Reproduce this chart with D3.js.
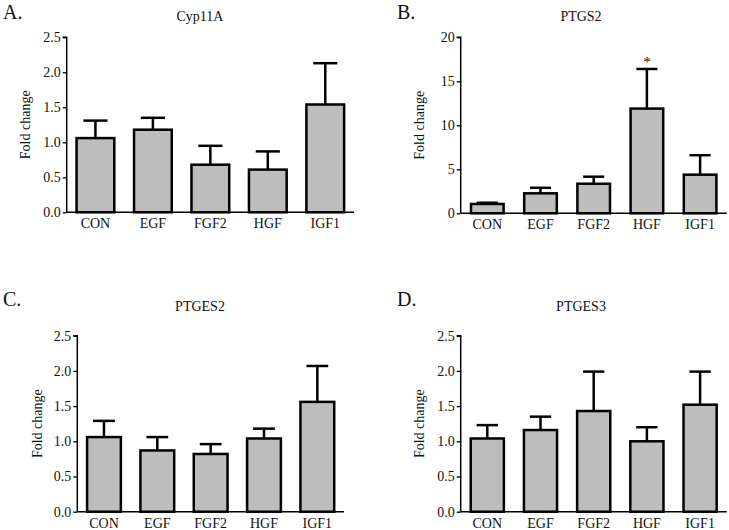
<!DOCTYPE html>
<html>
<head>
<meta charset="utf-8">
<script src="https://cdn.jsdelivr.net/npm/d3@7/dist/d3.min.js"></script>
<style>
  body { margin: 0; background: #fff; }
  svg { display: block; }
  text { font-family: "Liberation Serif", "Times New Roman", serif; fill: #111; }
</style>
</head>
<body>
<svg id="chart" width="729" height="530"></svg>
<script>
const categories = ["CON", "EGF", "FGF2", "HGF", "IGF1"];

const cyp11aMean = [1.06, 1.18, 0.68, 0.61, 1.54];
const cyp11aErr  = [1.31, 1.35, 0.95, 0.87, 2.13];

const ptgs2Mean = [1.06, 2.27, 3.36, 11.9, 4.39];
const ptgs2Err  = [1.2, 2.9, 4.16, 16.4, 6.6];

const ptges2Mean = [1.06, 0.87, 0.82, 1.04, 1.56];
const ptges2Err  = [1.29, 1.06, 0.96, 1.18, 2.07];

const ptges3Mean = [1.04, 1.16, 1.43, 1.0, 1.52];
const ptges3Err  = [1.23, 1.35, 1.99, 1.2, 1.99];

const ticksSmall = [0, 0.5, 1.0, 1.5, 2.0, 2.5];
const ticksBig = [0, 5, 10, 15, 20];

const panels = [
  { letter: "A.", title: "Cyp11A", mean: cyp11aMean, err: cyp11aErr, domain: [0, 2.5], ticks: ticksSmall, fmt: d3.format(".1f"),
    left: 66.7, right: 354, top: 37.3, bottom: 212.3, letterX: 3, letterY: 19, titleX: 200, titleY: 21, ylabX: 25, pad: 0.3, star: -1 },
  { letter: "B.", title: "PTGS2", mean: ptgs2Mean, err: ptgs2Err, domain: [0, 20], ticks: ticksBig, fmt: d3.format("d"),
    left: 460.7, right: 726.7, top: 37.3, bottom: 213.3, letterX: 397, letterY: 19, titleX: 581, titleY: 21, ylabX: 419, pad: 0.34, star: 3 },
  { letter: "C.", title: "PTGES2", mean: ptges2Mean, err: ptges2Err, domain: [0, 2.5], ticks: ticksSmall, fmt: d3.format(".1f"),
    left: 77.3, right: 344, top: 335.7, bottom: 511.7, letterX: 3, letterY: 306, titleX: 200, titleY: 311, ylabX: 37, pad: 0.32, star: -1 },
  { letter: "D.", title: "PTGES3", mean: ptges3Mean, err: ptges3Err, domain: [0, 2.5], ticks: ticksSmall, fmt: d3.format(".1f"),
    left: 460.7, right: 726.7, top: 335.7, bottom: 511.7, letterX: 397, letterY: 306, titleX: 581, titleY: 311, ylabX: 419, pad: 0.33, star: -1 }
];

const svg = d3.select("#chart");
const FS = 14;

panels.forEach(p => {
  const g = svg.append("g");
  const x = d3.scaleBand().domain(categories).range([p.left, p.right]).paddingInner(p.pad).paddingOuter(p.pad / 2);
  const y = d3.scaleLinear().domain(p.domain).range([p.bottom, p.top]);
  const bw = x.bandwidth();
  const capW = bw * 0.6;

  // error bars (upper only)
  categories.forEach((c, i) => {
    const cx = x(c) + bw / 2;
    g.append("line").attr("x1", cx).attr("x2", cx).attr("y1", y(p.mean[i])).attr("y2", y(p.err[i]))
      .attr("stroke", "#000").attr("stroke-width", 2.5);
    g.append("line").attr("x1", cx - capW / 2).attr("x2", cx + capW / 2).attr("y1", y(p.err[i])).attr("y2", y(p.err[i]))
      .attr("stroke", "#000").attr("stroke-width", 2.5);
  });

  // bars
  g.selectAll("rect.bar").data(categories).enter().append("rect")
    .attr("class", "bar")
    .attr("x", d => x(d) + 1.25)
    .attr("width", bw - 2.5)
    .attr("y", (d, i) => y(p.mean[i]))
    .attr("height", (d, i) => y(0) - y(p.mean[i]))
    .attr("fill", "#bdbdbd")
    .attr("stroke", "#000")
    .attr("stroke-width", 2.5);

  // y axis
  const yAxis = d3.axisLeft(y).tickValues(p.ticks).tickFormat(p.fmt).tickSize(4).tickPadding(2);
  const ya = g.append("g").attr("transform", `translate(${p.left},0)`).call(yAxis);
  ya.select(".domain").attr("stroke", "#000").attr("stroke-width", 1.5).attr("d", `M-4,${p.top}H0V${p.bottom}`);
  ya.selectAll(".tick line").attr("stroke", "#000").attr("stroke-width", 1.3);
  ya.selectAll(".tick text").attr("font-size", FS).attr("font-family", "Liberation Serif").attr("fill", "#111");

  // x axis
  const xAxis = d3.axisBottom(x).tickSize(0).tickPadding(6);
  const xa = g.append("g").attr("transform", `translate(0,${p.bottom})`).call(xAxis);
  xa.select(".domain").attr("stroke", "#000").attr("stroke-width", 1.5).attr("d", `M${p.left},0H${p.right}`);
  xa.selectAll(".tick text").attr("font-size", FS).attr("font-family", "Liberation Serif").attr("fill", "#111").attr("dy", "0.72em");

  // title
  g.append("text").attr("x", p.titleX).attr("y", p.titleY).attr("text-anchor", "middle")
    .attr("font-size", FS).text(p.title);
  // panel letter
  g.append("text").attr("x", p.letterX).attr("y", p.letterY).attr("font-size", 20).text(p.letter);
  // y label
  g.append("text").attr("transform", `translate(${p.ylabX},${(p.top + p.bottom) / 2}) rotate(-90)`)
    .attr("text-anchor", "middle").attr("dy", "0.35em").attr("font-size", FS).text("Fold change");

  if (p.star >= 0) {
    const c = categories[p.star];
    g.append("text").attr("x", x(c) + bw / 2).attr("y", y(p.err[p.star]) - 2).attr("text-anchor", "middle")
      .attr("font-size", 15).text("*");
  }
});
</script>
</body>
</html>
